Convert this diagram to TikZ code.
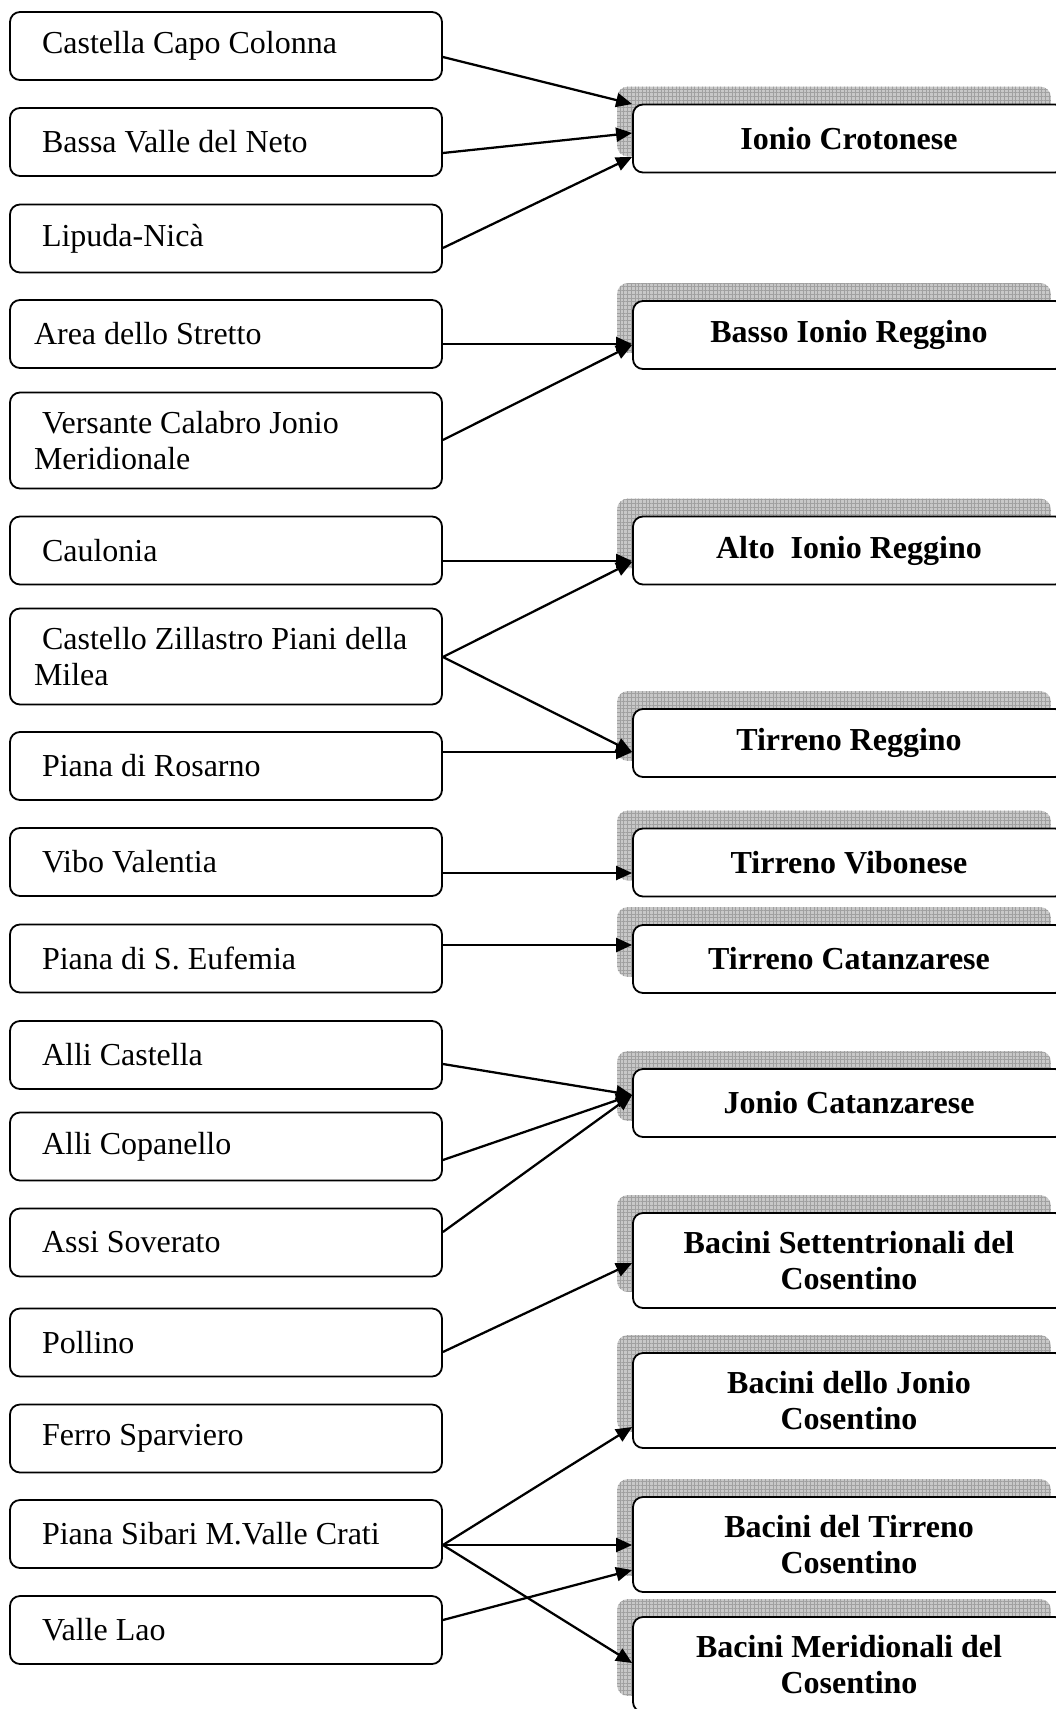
\documentclass[tikz,border=0pt]{standalone}
\usepackage{fontspec}
\setmainfont{Liberation Serif}
\usetikzlibrary{arrows.meta,patterns.meta,backgrounds}
\definecolor{shadowgray}{RGB}{200,200,200}
\definecolor{gridgray}{RGB}{160,160,160}
\tikzset{
 lbox/.style={draw, line width=1.35pt, rounded corners=7.5pt, fill=white, minimum width=324pt, minimum height=51pt, text width=288pt, inner xsep=18pt, align=flush left, font=\fontsize{24pt}{27pt}\selectfont},
 lbox2/.style={lbox, minimum height=72pt},
 rbox/.style={draw, line width=1.35pt, rounded corners=7.5pt, fill=white, minimum width=324pt, minimum height=51pt, text width=288pt, inner xsep=18pt, align=flush center, font=\fontsize{24pt}{27pt}\selectfont\bfseries},
 rbox2/.style={rbox, minimum height=71.25pt},
 conn/.style={line width=1.7pt, -{Triangle[length=12pt,width=10.5pt]}},
 shadowbox/.style={rounded corners=8pt, fill=shadowgray, postaction={pattern={Hatch[distance=2.8pt,line width=0.2pt]}, pattern color=gridgray}},
}
\begin{document}
\begin{tikzpicture}[x=0.75pt,y=-0.75pt]
\useasboundingbox (0,0) rectangle (1056,1709);
\clip (0,0) rectangle (1056,1709);
% left boxes
\node[lbox] (l1) at (226,46) {\ Castella Capo Colonna};
\node[lbox] (l2) at (226,142) {\ Bassa Valle del Neto};
\node[lbox] (l3) at (226,238.5) {\ Lipuda-Nicà};
\node[lbox] (l4) at (226,334) {Area dello Stretto};
\node[lbox2] (l5) at (226,440.5) {\ Versante Calabro Jonio\\Meridionale};
\node[lbox] (l6) at (226,550.5) {\ Caulonia};
\node[lbox2] (l7) at (226,656.5) {\ Castello Zillastro Piani della\\Milea};
\node[lbox] (l8) at (226,766) {\ Piana di Rosarno};
\node[lbox] (l9) at (226,862) {\ Vibo Valentia};
\node[lbox] (l10) at (226,958.5) {\ Piana di S. Eufemia};
\node[lbox] (l11) at (226,1055) {\ Alli Castella};
\node[lbox] (l12) at (226,1146.5) {\ Alli Copanello};
\node[lbox] (l13) at (226,1242.5) {\ Assi Soverato};
\node[lbox] (l14) at (226,1342.5) {\ Pollino};
\node[lbox] (l15) at (226,1438.5) {\ Ferro Sparviero};
\node[lbox] (l16) at (226,1534) {\ Piana Sibari M.Valle Crati};
\node[lbox] (l17) at (226,1630) {\ Valle Lao};
% right boxes
\node[rbox] (r1) at (849,138.5) {Ionio Crotonese};
\node[rbox] (r2) at (849,335) {Basso Ionio Reggino};
\node[rbox] (r3) at (849,550.5) {Alto\ \ Ionio Reggino};
\node[rbox] (r4) at (849,743) {Tirreno Reggino};
\node[rbox] (r5) at (849,862.5) {Tirreno Vibonese};
\node[rbox] (r6) at (849,959) {Tirreno Catanzarese};
\node[rbox] (r7) at (849,1103) {Jonio Catanzarese};
\node[rbox2] (r8) at (849,1260.5) {Bacini Settentrionali del\\Cosentino};
\node[rbox2] (r9) at (849,1400.5) {Bacini dello Jonio\\Cosentino};
\node[rbox2] (r10) at (849,1544.5) {Bacini del Tirreno\\Cosentino};
\node[rbox2] (r11) at (849,1664.5) {Bacini Meridionali del\\Cosentino};
% shadows
\begin{scope}[on background layer]
\foreach \i in {1,...,11}{
  \path[shadowbox] ([shift={(-15,-17)}]r\i.north west) rectangle ([shift={(-15,-17)}]r\i.south east);
}
\end{scope}
% connectors
\draw[conn] (l1.east |- 0,57) -- (r1.west |- 0,104);
\draw[conn] (l2.east |- 0,153) -- (r1.west |- 0,133);
\draw[conn] (l3.east |- 0,248) -- (r1.west |- 0,157);
\draw[conn] (l4.east |- 0,344) -- (r2.west |- 0,344);
\draw[conn] (l5.east |- 0,440) -- (r2.west |- 0,345);
\draw[conn] (l6.east |- 0,561) -- (r3.west |- 0,561);
\draw[conn] (l7.east |- 0,657) -- (r3.west |- 0,562);
\draw[conn] (l7.east |- 0,657) -- (r4.west |- 0,752);
\draw[conn] (l8.east |- 0,752) -- (r4.west |- 0,752);
\draw[conn] (l9.east |- 0,873) -- (r5.west |- 0,873);
\draw[conn] (l10.east |- 0,945) -- (r6.west |- 0,945);
\draw[conn] (l11.east |- 0,1064) -- (r7.west |- 0,1095);
\draw[conn] (l12.east |- 0,1160) -- (r7.west |- 0,1095);
\draw[conn] (l13.east |- 0,1232) -- (r7.west |- 0,1095);
\draw[conn] (l14.east |- 0,1352) -- (r8.west |- 0,1263);
\draw[conn] (l16.east |- 0,1545) -- (r9.west |- 0,1427);
\draw[conn] (l16.east |- 0,1545) -- (r10.west |- 0,1545);
\draw[conn] (l17.east |- 0,1620) -- (r10.west |- 0,1570);
\draw[conn] (l16.east |- 0,1545) -- (r11.west |- 0,1663);
\end{tikzpicture}
\end{document}
